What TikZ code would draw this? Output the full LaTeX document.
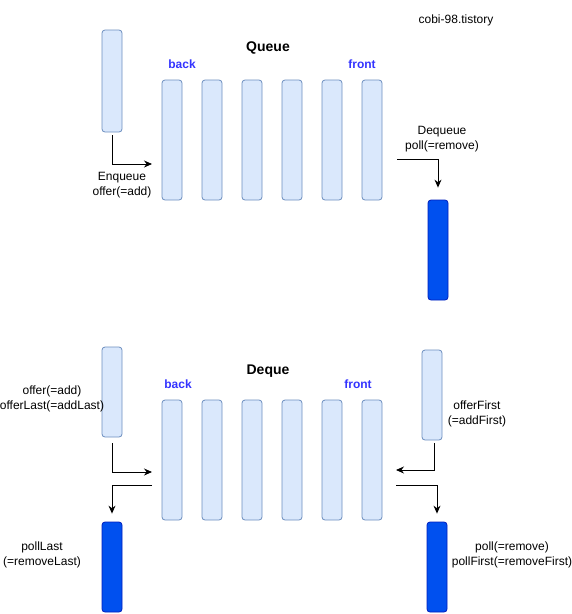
\documentclass[tikz,border=0pt]{standalone}
\usepackage{fontspec}
\setmainfont{Liberation Sans}
\usetikzlibrary{arrows.meta}
\definecolor{cellfill}{HTML}{DAE8FC}
\definecolor{cellline}{HTML}{6C8EBF}
\definecolor{darkfill}{HTML}{0050EF}
\definecolor{darkline}{HTML}{001DBC}
\definecolor{labelblue}{HTML}{3333FF}
\begin{document}
\begin{tikzpicture}[x=1pt,y=-1pt,
  every node/.style={font=\fontsize{12}{15}\selectfont,align=center,inner sep=0pt},
  cell/.style={draw=cellline,fill=cellfill,rounded corners=3pt,minimum width=20pt,line width=0.8pt},
  outcell/.style={draw=darkline,fill=darkfill,rounded corners=3pt,minimum width=20pt,line width=0.8pt},
  arr/.style={-{Stealth[length=8pt,width=7pt]},line width=0.9pt},
  title/.style={font=\fontsize{14}{17}\selectfont\bfseries},
  endlabel/.style={font=\fontsize{12}{15}\selectfont\bfseries,text=labelblue}]
\useasboundingbox (0,0) rectangle (572,614);
\node (src) at (456,20) {cobi-98.tistory};
% queue
\begin{scope}
\node[title] (qtitle) at (268,47.5) {Queue};
\node[endlabel] (qback) at (182,64) {back};
\node[endlabel] (qfront) at (362,64) {front};
\foreach \i in {1,...,6} \node[cell,minimum height=120pt] (q\i) at (132+40*\i,140) {};
\node[cell,minimum height=102pt] (qin) at (112,81) {};
\node[outcell,minimum height=100pt] (qout) at (438,250) {};
\coordinate (enq) at (152,164);
\coordinate (deq) at (397,159);
\draw[arr] ([yshift=-3pt]qin.south) |- (enq);
\draw[arr] (deq) -| ([yshift=12pt]qout.north);
\node (enqlbl) at (122,185) {Enqueue\\offer(=add)};
\node (deqlbl) at (442,139) {Dequeue\\poll(=remove)};
\end{scope}
% deque
\begin{scope}
\node[title] (dtitle) at (268,371.5) {Deque};
\node[endlabel] (dback) at (178,384) {back};
\node[endlabel] (dfront) at (358,384) {front};
\foreach \i in {1,...,6} \node[cell,minimum height=120pt] (d\i) at (132+40*\i,460) {};
\node[cell,minimum height=90pt] (lin) at (112,392) {};
\node[cell,minimum height=90pt] (rin) at (432,395) {};
\node[outcell,minimum height=90pt] (lout) at (112,567) {};
\node[outcell,minimum height=90pt] (rout) at (437,567) {};
\coordinate (lend) at (152,472);
\coordinate (lstart) at (152,485);
\coordinate (rend) at (396,470);
\coordinate (rstart) at (396,485);
\draw[arr] ([yshift=-6pt]lin.south) |- (lend);
\draw[arr] (lstart) -| ([yshift=8pt]lout.north);
\draw[arr] ([xshift=2pt,yshift=-3pt]rin.south) |- (rend);
\draw[arr] (rstart) -| ([yshift=8pt]rout.north);
\node (linlbl) at (52,399) {offer(=add)\\offerLast(=addLast)};
\node (rinlbl) at (477,414) {offerFirst\\(=addFirst)};
\node (loutlbl) at (42,555) {pollLast\\(=removeLast)};
\node (routlbl) at (512,555) {poll(=remove)\\pollFirst(=removeFirst)};
\end{scope}
\end{tikzpicture}
\end{document}
